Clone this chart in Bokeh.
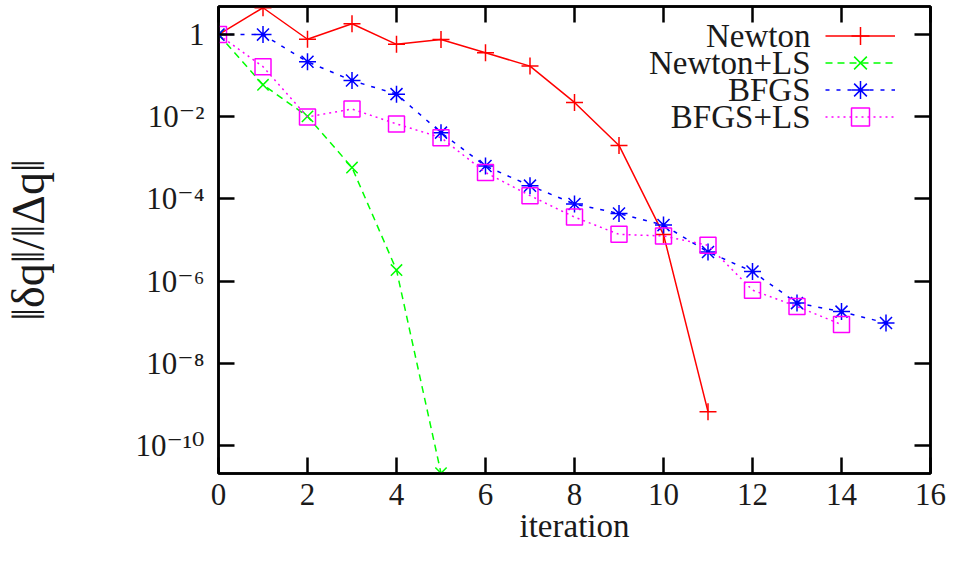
from bokeh.plotting import figure
from bokeh.models import (Range1d, LogAxis, LinearAxis, FixedTicker, Legend,
                          LegendItem, Label)
from bokeh.embed import file_html
from bokeh.resources import INLINE

# ---- data ----
newton_x = [0, 1, 2, 3, 4, 5, 6, 7, 8, 9, 10, 11]
newton_y = [1.0, 4.5, 0.77, 1.84, 0.58, 0.76, 0.36, 0.171, 0.0223, 0.0020, 1.35e-5, 6.6e-10]

newtonls_x = [0, 1, 2, 3, 4, 5]
newtonls_y = [1.0, 0.060, 0.0102, 5.8e-4, 1.85e-6, 2.1e-11]

bfgs_x = [0, 1, 2, 3, 4, 5, 6, 7, 8, 9, 10, 11, 12, 13, 14, 15]
bfgs_y = [1.0, 1.0, 0.218, 0.076, 0.0355, 0.0041, 6.3e-4, 2.1e-4, 7.5e-5, 4.4e-5,
          2.3e-5, 5.1e-6, 1.7e-6, 2.9e-7, 1.8e-7, 9.5e-8]

bfgsls_x = [0, 1, 2, 3, 4, 5, 6, 7, 8, 9, 10, 11, 12, 13, 14]
bfgsls_y = [1.0, 0.165, 0.0099, 0.0154, 0.0067, 0.0031, 4.4e-4, 1.2e-4, 3.6e-5, 1.37e-5,
            1.25e-5, 7.4e-6, 6.0e-7, 2.4e-7, 8.7e-8]

series_names = ["Newton", "Newton+LS", "BFGS", "BFGS+LS"]

x_ticks = [0, 2, 4, 6, 8, 10, 12, 14, 16]
y_ticks = [1e-10, 1e-8, 1e-6, 1e-4, 1e-2, 1.0]
y_tick_labels = ["10\u207b\u00b9\u2070", "10\u207b\u2078", "10\u207b\u2076",
                 "10\u207b\u2074", "10\u207b\u00b2", "1"]

x_label = "iteration"
y_label = "\u2016\u03b4q\u2016/\u2016\u0394q\u2016"

FONT = "'Liberation Serif', 'DejaVu Serif', serif"
FS = "31px"
FS_BIG = "33px"
TXT = "#1a1a1a"

p = figure(width=946, height=547, x_range=Range1d(0, 16),
           y_range=Range1d(2.06e-11, 4.83), y_axis_type="log",
           output_backend="svg", toolbar_location=None,
           min_border_left=216, min_border_right=16, min_border_top=6,
           min_border_bottom=74)
p.grid.visible = False
p.outline_line_color = "black"
p.outline_line_width = 2.5
p.background_fill_color = "white"
p.border_fill_color = "white"

# extra axes (top, right) with inward ticks only
p.add_layout(LinearAxis(), "above")
p.add_layout(LogAxis(), "right")

for ax in p.xaxis:
    ax.ticker = FixedTicker(ticks=x_ticks)
for ax in p.yaxis:
    ax.ticker = FixedTicker(ticks=y_ticks)

for ax in p.axis:
    ax.major_tick_in = 16
    ax.major_tick_out = 0
    ax.major_tick_line_width = 2.5
    ax.major_tick_line_color = "black"
    ax.minor_tick_line_color = None
    ax.axis_line_width = 2.5
    ax.axis_line_color = "black"
    ax.major_label_text_font = FONT
    ax.major_label_text_font_size = FS
    ax.major_label_text_color = TXT
    ax.axis_label_text_font = FONT
    ax.axis_label_text_font_size = FS_BIG
    ax.axis_label_text_font_style = "normal"
    ax.axis_label_text_color = TXT

# no labels on top and right
p.above[0].major_label_overrides = {t: "" for t in x_ticks}
p.above[0].major_label_standoff = 0
p.right[0].major_label_overrides = {t: "" for t in y_ticks}
p.right[0].major_label_standoff = 0

bottom = p.below[0]
left = p.left[0]
bottom.axis_label = x_label
bottom.major_label_standoff = 10
bottom.axis_label_standoff = 0
left.axis_label = y_label
left.axis_label_text_font_size = "46px"
left.major_label_standoff = 14
left.axis_label_standoff = 78
left.major_label_overrides = {t: l for t, l in zip(y_ticks, y_tick_labels)}

# ---- series ----
r_newton_l = p.line(newton_x, newton_y, line_color="#ff0000", line_width=1.5)
r_newton_m = p.scatter(newton_x, newton_y, marker="cross", size=17,
                       line_color="#ff0000", line_width=1.5)

r_nls_l = p.line(newtonls_x, newtonls_y, line_color="#00ff00", line_width=1.5,
                 line_dash="7 5")
r_nls_m = p.scatter(newtonls_x, newtonls_y, marker="x", size=16,
                    line_color="#00ff00", line_width=1.5)

r_bfgs_l = p.line(bfgs_x, bfgs_y, line_color="#0000ff", line_width=1.5,
                  line_dash="4 7")
r_bfgs_m = p.scatter(bfgs_x, bfgs_y, marker="asterisk", size=17,
                     line_color="#0000ff", line_width=1.5)

r_bls_l = p.line(bfgsls_x, bfgsls_y, line_color="#ff00ff", line_width=1.5,
                 line_dash="2 4")
r_bls_m = p.scatter(bfgsls_x, bfgsls_y, marker="square", size=16,
                    line_color="#ff00ff", fill_alpha=0, line_width=1.5)

groups = [[r_newton_l, r_newton_m], [r_nls_l, r_nls_m],
          [r_bfgs_l, r_bfgs_m], [r_bls_l, r_bls_m]]

# ---- legend: right-aligned text, sample to its right (gnuplot style) ----
LEG_TOP = 438      # row centre of first entry, px above frame bottom
LEG_PITCH = 27
LEG_TEXT_X = 592   # right edge of texts, px from frame left
LEG_GLYPH_X = 607  # left edge of samples
GH = 45
for i, (name, g) in enumerate(zip(series_names, groups)):
    cy = LEG_TOP - i * LEG_PITCH
    p.add_layout(Label(x=LEG_TEXT_X, y=cy, x_units="screen", y_units="screen",
                       text=name, text_align="right", text_baseline="middle",
                       text_font=FONT, text_font_size=FS_BIG, text_color=TXT))
    lg = Legend(items=[LegendItem(label="", renderers=g)],
                location=(LEG_GLYPH_X, cy - GH / 2))
    lg.border_line_color = None
    lg.background_fill_alpha = 0
    lg.label_text_font_size = FS
    lg.glyph_width = 70
    lg.glyph_height = GH
    lg.label_height = GH
    lg.padding = 0
    lg.margin = 0
    lg.spacing = 0
    lg.label_standoff = 0
    p.add_layout(lg, "center")

open("out.html", "w").write(file_html(p, INLINE))
